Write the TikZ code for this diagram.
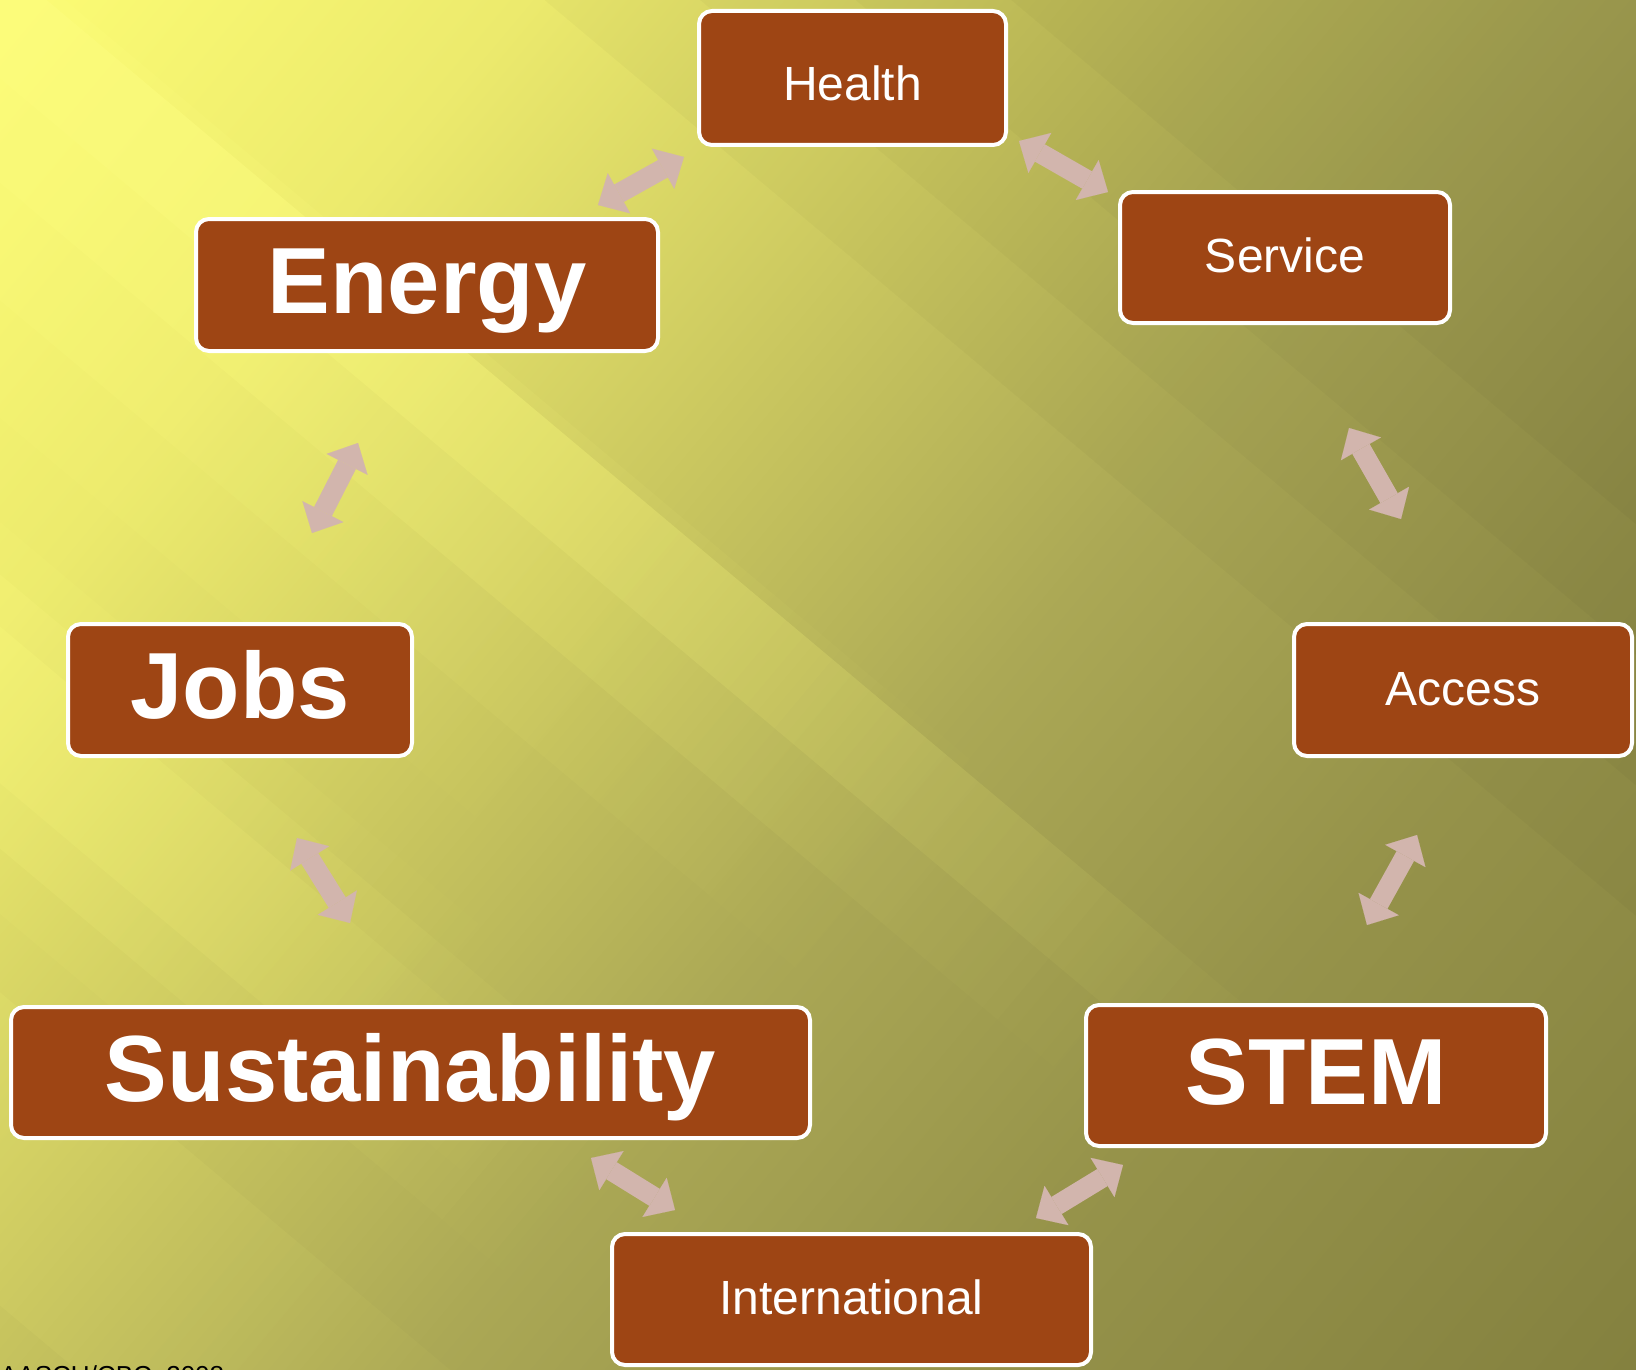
\documentclass[tikz,border=0pt]{standalone}
\usepackage{fontspec}
\setmainfont{Liberation Sans}
\usetikzlibrary{arrows.meta,fadings}
\definecolor{boxfill}{RGB}{158,69,20}
\definecolor{arrowc}{RGB}{210,181,173}
\definecolor{bA}{HTML}{FCFC74}
\definecolor{bB}{HTML}{ECEA6D}
\definecolor{bC}{HTML}{CCC960}
\definecolor{bD}{HTML}{ABA855}
\definecolor{bE}{HTML}{96934A}
\definecolor{bF}{HTML}{84813F}
\definecolor{rayc}{HTML}{FFFF80}
\pgfdeclarehorizontalshading{bgaxis}{100bp}{color(0bp)=(bA); color(27.8bp)=(bA); color(36.1bp)=(bB); color(44.4bp)=(bC); color(52.8bp)=(bD); color(61.1bp)=(bE); color(72.2bp)=(bF); color(100bp)=(bF)}
\tikzfading[name=fadeu, left color=transparent!0, middle color=transparent!10, right color=transparent!100]
\tikzset{
  box/.style={draw=white, line width=4pt, fill=boxfill, rounded corners=13pt, text=white, inner sep=0pt, text depth=0pt},
  bigbox/.style={box, font=\bfseries\fontsize{94}{100}\selectfont, text height=57pt},
  smallbox/.style={box, font=\fontsize{48}{54}\selectfont, text height=30pt},
  arr/.style={line width=20pt, draw=arrowc, arrows={Triangle[width=46pt,length=24pt,line width=0.1pt]-Triangle[width=46pt,length=24pt,line width=0.1pt]}},
  streak/.style={fill=rayc, path fading=fadeu},
  shadow/.style={fill=black, opacity=0.025}
}
\begin{document}
\begin{tikzpicture}[x=1pt,y=-1pt]
\useasboundingbox (0,0) rectangle (1636,1370);
\clip (0,0) rectangle (1636,1370);
% background: base gradient along the light direction
\shade[shading=bgaxis, shading angle=-40] (-382,-515) rectangle (2018,1885);
% light streaks (u along the rays, v across them)
\begin{scope}[transform canvas={rotate=-40}]
  \fill[streak, opacity=0.35] (-300,-30) rectangle (1750,60);
  \fill[streak, opacity=0.30] (-300,-30) rectangle (1550,140);
  \fill[streak, opacity=0.22] (-300,-42) rectangle (1300,230);
  \fill[streak, opacity=0.20] (-300,-30) rectangle (1000,320);
  \fill[streak, opacity=0.40] (-300,480) rectangle (1150,600);
  \fill[streak, opacity=0.30] (-300,440) rectangle (1250,650);
  \fill[streak, opacity=0.20] (-300,400) rectangle (1050,700);
  \fill[streak, opacity=0.20] (-300,760) rectangle (1550,1000);
  \foreach \vv in {-350,-450,-550,-650}
    {\fill[shadow] (-300,-3000) rectangle (3500,\vv);}
\end{scope}
% nodes
\node[smallbox, minimum width=307pt, minimum height=134pt, text height=46pt] (health) at (852.5,78) {Health};
\node[smallbox, minimum width=330pt, minimum height=131pt] (service) at (1285,257.5) {Service};
\node[bigbox, minimum width=462pt, minimum height=132pt] (energy) at (427,285) {Energy};
\node[bigbox, minimum width=344pt, minimum height=132pt] (jobs) at (240,690) {Jobs};
\node[smallbox, minimum width=338pt, minimum height=132pt] (access) at (1463,690) {Access};
\node[bigbox, minimum width=799pt, minimum height=131pt] (sust) at (410.5,1072.5) {Sustainability};
\node[bigbox, minimum width=460pt, minimum height=141pt] (stem) at (1316,1075.5) {STEM};
\node[smallbox, minimum width=479pt, minimum height=131pt] (intl) at (851.5,1299.5) {International};
% arrow end points
\coordinate (eh1) at (598,205); \coordinate (eh2) at (684,157);
\coordinate (hs1) at (1019,141); \coordinate (hs2) at (1108,192);
\coordinate (sa1) at (1349,428); \coordinate (sa2) at (1401,519);
\coordinate (as1) at (1417,835); \coordinate (as2) at (1367,925);
\coordinate (si1) at (1123,1165); \coordinate (si2) at (1036,1218);
\coordinate (is1) at (675,1210); \coordinate (is2) at (591,1158);
\coordinate (sj1) at (350,923); \coordinate (sj2) at (297,838);
\coordinate (je1) at (312,533); \coordinate (je2) at (358,443);
\draw[arr] (eh1) -- (eh2);
\draw[arr] (hs1) -- (hs2);
\draw[arr] (sa1) -- (sa2);
\draw[arr] (as1) -- (as2);
\draw[arr] (si1) -- (si2);
\draw[arr] (is1) -- (is2);
\draw[arr] (sj1) -- (sj2);
\draw[arr] (je1) -- (je2);
% source note (cut off by the lower edge, as in the original)
\node[anchor=base west, inner sep=0pt, font=\fontsize{26}{30}\selectfont, text=black] (src) at (0,1384) {AASCU/CBC, 2008};
\end{tikzpicture}
\end{document}
